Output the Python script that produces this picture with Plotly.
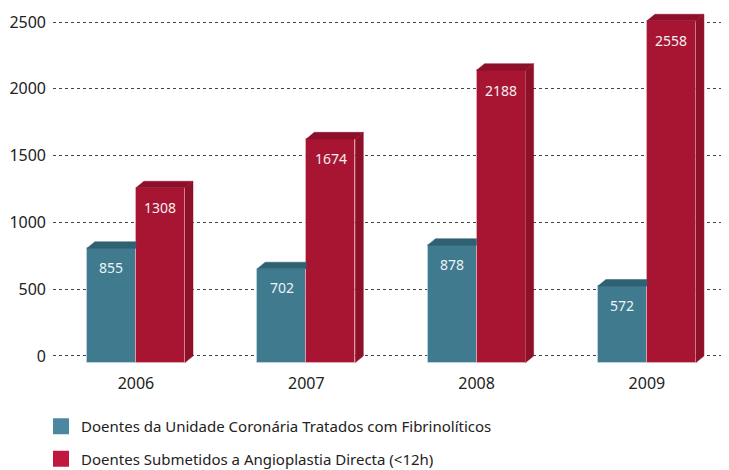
import plotly.graph_objects as go

years = ["2006", "2007", "2008", "2009"]
fibrinoliticos = [855, 702, 878, 572]
angioplastia = [1308, 1674, 2188, 2558]
y_ticks = [0, 500, 1000, 1500, 2000, 2500]

name_fib = "Doentes da Unidade Coronária Tratados com Fibrinolíticos"
name_ang = "Doentes Submetidos a Angioplastia Directa (<12h)"

TEAL_FRONT = "#3f7a8f"
TEAL_TOP = "#2f6172"
RED_FRONT = "#a81533"
RED_TOP = "#8e0f2b"
RED_SIDE = "#8f1129"
LEG_TEAL = "#4a88a2"
LEG_RED = "#c0183f"

W = 0.288      # bar width (x units)
DX = 0.047     # depth in x units
DY = 49        # depth in y units

FONT = "Noto Sans"

# the page body adds an 8px margin around the figure
FIG_W, FIG_H = 721, 462

fig = go.Figure()
xs = list(range(len(years)))

# teal top faces (clipped at the red bar edge)
for i, v in zip(xs, fibrinoliticos):
    fig.add_trace(go.Scatter(
        x=[i - W, i, i, i - W + DX, i - W],
        y=[v - DY, v - DY, v, v, v - DY],
        fill="toself", fillcolor=TEAL_TOP, mode="lines",
        line=dict(width=0.5, color=TEAL_TOP), showlegend=False, hoverinfo="skip"))

# red top and side faces
for i, v in zip(xs, angioplastia):
    fig.add_trace(go.Scatter(
        x=[i, i + W, i + W + DX, i + DX, i],
        y=[v - DY, v - DY, v, v, v - DY],
        fill="toself", fillcolor=RED_TOP, mode="lines",
        line=dict(width=0.5, color=RED_TOP), showlegend=False, hoverinfo="skip"))
    fig.add_trace(go.Scatter(
        x=[i + W, i + W, i + W + DX, i + W + DX, i + W],
        y=[-DY, v - DY, v, 0, -DY],
        fill="toself", fillcolor=RED_SIDE, mode="lines",
        line=dict(width=0.5, color=RED_SIDE), showlegend=False, hoverinfo="skip"))

# front faces
fig.add_trace(go.Bar(
    x=[i - W / 2 for i in xs], y=fibrinoliticos, base=[-DY] * len(xs), width=W,
    marker=dict(color=TEAL_FRONT, line=dict(color="rgba(200,225,235,0.6)", width=1)),
    showlegend=False, hoverinfo="skip"))
fig.add_trace(go.Bar(
    x=[i + W / 2 for i in xs], y=angioplastia, base=[-DY] * len(xs), width=W,
    marker=dict(color=RED_FRONT, line=dict(color="rgba(240,190,200,0.6)", width=1)),
    showlegend=False, hoverinfo="skip"))

# value labels
for i, v in zip(xs, fibrinoliticos):
    fig.add_annotation(x=i - W / 2, y=v - DY, text=str(v), showarrow=False,
                       yshift=-19, font=dict(family=FONT, size=14, color="#eef3f6"))
for i, v in zip(xs, angioplastia):
    fig.add_annotation(x=i + W / 2, y=v - DY, text=str(v), showarrow=False,
                       yshift=-20, font=dict(family=FONT, size=14, color="#f6eef0"))

# legend entries
fig.add_trace(go.Scatter(x=[None], y=[None], mode="markers", name=name_fib,
                         marker=dict(symbol="square", size=16, color=LEG_TEAL),
                         legendgroup="a"))
fig.add_trace(go.Scatter(x=[None], y=[None], mode="markers", name=name_ang,
                         marker=dict(symbol="square", size=16, color=LEG_RED),
                         legendgroup="b"))

fig.update_layout(
    width=FIG_W, height=FIG_H, autosize=False,
    margin=dict(l=45, r=0, t=0, b=104, autoexpand=False),
    paper_bgcolor="white", plot_bgcolor="white",
    barmode="overlay", bargap=0,
    font=dict(family=FONT, size=16, color="#222222"),
    showlegend=True,
    legend=dict(orientation="v", xref="container", yref="container",
                x=33 / FIG_W, xanchor="left", y=1 - 402 / FIG_H, yanchor="top",
                font=dict(family=FONT, size=15, color="#222222"),
                tracegroupgap=10, bgcolor="rgba(0,0,0,0)"),
    xaxis=dict(range=[-0.487, 3.482], tickvals=xs, ticktext=years,
               showgrid=False, zeroline=False, showline=False, ticks="",
               ticklabelstandoff=6, tickfont=dict(size=16), automargin=False),
    yaxis=dict(range=[-75, 2605], tickvals=y_ticks, showgrid=True,
               gridcolor="#444444", griddash="dot", gridwidth=1,
               zeroline=False, showline=False, ticks="", ticklabelstandoff=6,
               tickfont=dict(size=16), automargin=False),
)

fig.write_html("out.html")
